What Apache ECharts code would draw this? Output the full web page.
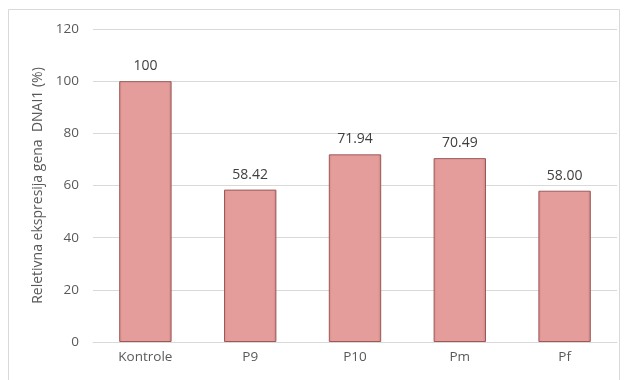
<!DOCTYPE html>
<html style="height: 100%">
<head>
    <meta charset="UTF-8">
</head>
<body style="height: 100%; margin: 0; background: #fff">
    <div id="container" style="height: 100%"></div>
    <script type="text/javascript" src="https://cdn.jsdelivr.net/npm/echarts@6/dist/echarts.min.js"></script>
    <script type="text/javascript">
    var categories = ['Kontrole', 'P9', 'P10', 'Pm', 'Pf'];
    var values = [100, 58.42, 71.94, 70.49, 58.00];
    var valueLabels = ['100', '58.42', '71.94', '70.49', '58.00'];

    var myChart = echarts.init(document.getElementById('container'));
    var option = {
        animation: false,
        graphic: [{
            type: 'rect',
            shape: { x: 8.5, y: 9.5, width: 611, height: 380 },
            style: { fill: 'none', stroke: '#d9d9d9', lineWidth: 1 },
            silent: true
        }],
        grid: { left: 93, right: 7, top: 29, bottom: 38 },
        xAxis: {
            type: 'category',
            data: categories,
            axisLine: { lineStyle: { color: '#d9d9d9' } },
            axisTick: { show: false },
            axisLabel: { color: '#595959', fontSize: 13.5, fontFamily: 'Open Sans', margin: 8 }
        },
        yAxis: {
            type: 'value',
            min: 0, max: 120, interval: 20,
            name: 'Reletivna ekspresija gena  DNAI1 (%)',
            nameLocation: 'middle',
            nameGap: 45,
            nameTextStyle: { color: '#595959', fontSize: 14, fontFamily: 'Open Sans' },
            axisLine: { show: false },
            axisTick: { show: false },
            axisLabel: { color: '#595959', fontSize: 13.5, fontFamily: 'Open Sans', margin: 14 },
            splitLine: { lineStyle: { color: '#d9d9d9' } }
        },
        series: [{
            type: 'bar',
            data: values,
            barWidth: '50%',
            itemStyle: {
                color: new echarts.graphic.LinearGradient(0, 0, 1, 0, [
                    { offset: 0, color: '#d98a89' },
                    { offset: 0.06, color: '#e59d9c' },
                    { offset: 0.94, color: '#e59d9c' },
                    { offset: 1, color: '#c98281' }
                ]),
                borderColor: '#9a5957',
                borderWidth: 1
            },
            label: {
                show: true,
                position: 'top',
                distance: 8,
                color: '#404040',
                fontSize: 14,
                fontFamily: 'Open Sans',
                formatter: function (p) { return valueLabels[p.dataIndex]; }
            }
        }]
    };
    myChart.setOption(option);
    </script>
</body>
</html>
